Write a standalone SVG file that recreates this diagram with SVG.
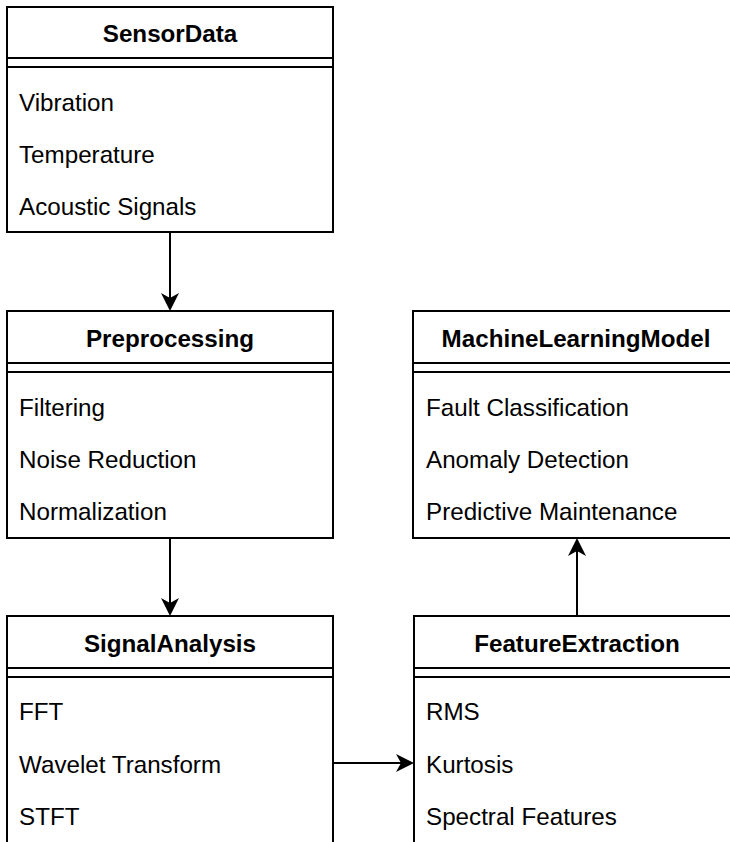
<svg xmlns="http://www.w3.org/2000/svg" width="730" height="842" viewBox="0 0 730 842">
<style>
.box{fill:#fff;stroke:#000;stroke-width:2}
.sep{stroke:#000;stroke-width:2;fill:none}
.title{font-family:"Liberation Sans",Arial,sans-serif;font-size:24.2px;font-weight:bold;fill:#000;text-anchor:middle}
.item{font-family:"Liberation Sans",Arial,sans-serif;font-size:24.2px;fill:#000}
.conn{stroke:#000;stroke-width:2;fill:none;marker-end:url(#arr)}
</style>
<defs>
<marker id="arr" markerUnits="userSpaceOnUse" viewBox="0 0 18 18" refX="14" refY="9" markerWidth="18" markerHeight="18" orient="auto">
<path d="M0,0 L18,9 L0,18 L5,9 Z" fill="#000"/>
</marker>
</defs>
<g id="SensorData">
<rect class="box" x="7" y="7" width="326" height="225"/>
<line class="sep" x1="7" y1="58" x2="333" y2="58"/>
<line class="sep" x1="7" y1="67" x2="333" y2="67"/>
<text class="title" x="170" y="42">SensorData</text>
<text class="item" x="19" y="111">Vibration</text>
<text class="item" x="19" y="163">Temperature</text>
<text class="item" x="19" y="215">Acoustic Signals</text>
</g>
<g id="Preprocessing">
<rect class="box" x="7" y="311" width="326" height="227"/>
<line class="sep" x1="7" y1="363" x2="333" y2="363"/>
<line class="sep" x1="7" y1="372" x2="333" y2="372"/>
<text class="title" x="170" y="347">Preprocessing</text>
<text class="item" x="19" y="416">Filtering</text>
<text class="item" x="19" y="468">Noise Reduction</text>
<text class="item" x="19" y="520">Normalization</text>
</g>
<g id="MachineLearningModel">
<rect class="box" x="413" y="311" width="326" height="227"/>
<line class="sep" x1="413" y1="363" x2="739" y2="363"/>
<line class="sep" x1="413" y1="372" x2="739" y2="372"/>
<text class="title" x="576" y="347">MachineLearningModel</text>
<text class="item" x="426" y="416">Fault Classification</text>
<text class="item" x="426" y="468">Anomaly Detection</text>
<text class="item" x="426" y="520">Predictive Maintenance</text>
</g>
<g id="SignalAnalysis">
<rect class="box" x="7" y="616" width="326" height="232"/>
<line class="sep" x1="7" y1="668" x2="333" y2="668"/>
<line class="sep" x1="7" y1="677" x2="333" y2="677"/>
<text class="title" x="170" y="652">SignalAnalysis</text>
<text class="item" x="19" y="720">FFT</text>
<text class="item" x="19" y="773">Wavelet Transform</text>
<text class="item" x="19" y="825">STFT</text>
</g>
<g id="FeatureExtraction">
<rect class="box" x="414" y="616" width="326" height="232"/>
<line class="sep" x1="414" y1="668" x2="740" y2="668"/>
<line class="sep" x1="414" y1="677" x2="740" y2="677"/>
<text class="title" x="577" y="652">FeatureExtraction</text>
<text class="item" x="426" y="720">RMS</text>
<text class="item" x="426" y="773">Kurtosis</text>
<text class="item" x="426" y="825">Spectral Features</text>
</g>
<g id="connectors">
<line class="conn" x1="170" y1="232" x2="170" y2="307"/>
<line class="conn" x1="170" y1="538" x2="170" y2="612"/>
<line class="conn" x1="333" y1="763" x2="410" y2="763"/>
<line class="conn" x1="577" y1="616" x2="577" y2="542"/>
</g>
</svg>
